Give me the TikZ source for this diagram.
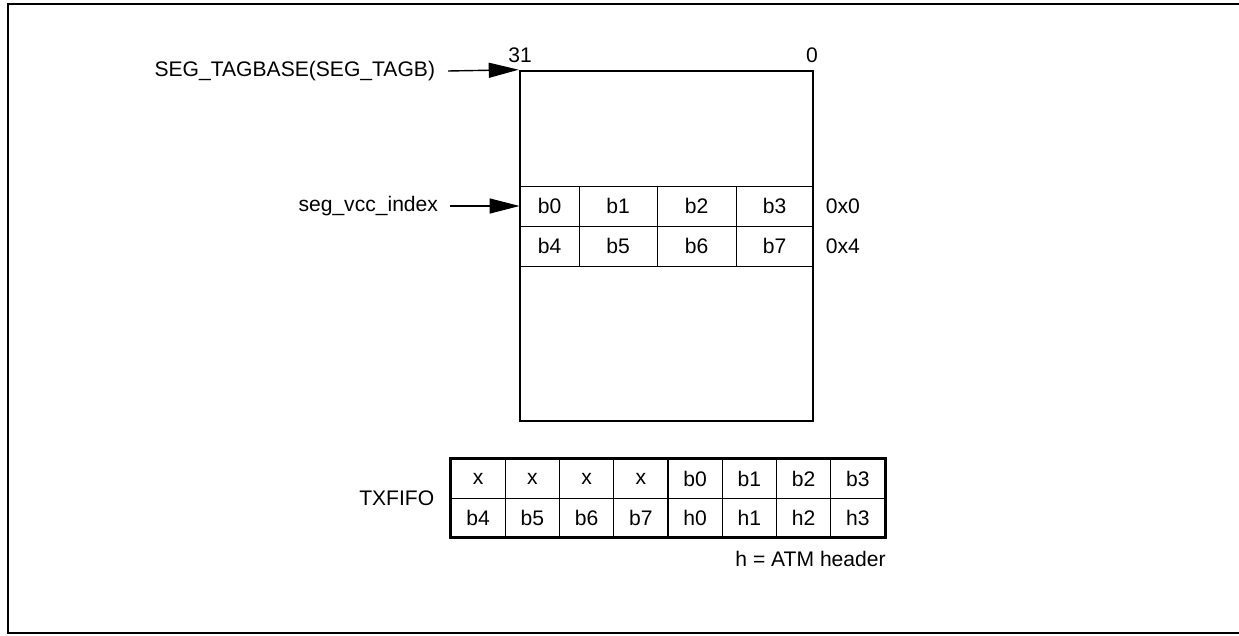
\documentclass[tikz,border=0pt]{standalone}
\usepackage{fontspec}
\setmainfont{Liberation Sans}
\usetikzlibrary{arrows.meta,positioning}

\begin{document}
\begin{tikzpicture}[x=0.02cm,y=-0.02cm,
  font=\fontsize{12}{14}\selectfont,
  memblk/.style={draw,line width=1.5pt,minimum width=5.86cm,minimum height=7cm,inner sep=0pt},
  mcell/.style={draw,line width=0.5pt,minimum height=0.8cm,inner sep=0pt},
  fcell/.style={draw,line width=0.5pt,minimum width=1.085cm,minimum height=0.78cm,inner sep=0pt},
  lbl/.style={inner sep=0pt},
  ptr/.style={-{Triangle[length=0.6cm,width=0.3cm]},line width=0.8pt}
]
  \useasboundingbox (0,0) rectangle (1239,635);
  % open frame
  \draw[line width=1.1pt] (1239,4) -- (8,4) -- (8,633) -- (1239,633);
  % memory rows
  \node[mcell,minimum width=1.18cm] (mb0) at (549.5,206) {b0};
  \node[mcell,minimum width=1.56cm] (mb1) at (618,206) {b1};
  \node[mcell,minimum width=1.58cm] (mb2) at (696.5,206) {b2};
  \node[mcell,minimum width=1.54cm] (mb3) at (774.5,206) {b3};
  \node[mcell,minimum width=1.18cm] (mb4) at (549.5,246) {b4};
  \node[mcell,minimum width=1.56cm] (mb5) at (618,246) {b5};
  \node[mcell,minimum width=1.58cm] (mb6) at (696.5,246) {b6};
  \node[mcell,minimum width=1.54cm] (mb7) at (774.5,246) {b7};
  \node[memblk] (mem) at (666.5,246) {};
  \node[lbl,anchor=south] (msb) at (520,63) {31};
  \node[lbl,anchor=south] (lsb) at (812,63) {0};
  \node[lbl,right=0.24cm of mb3.east] (off0) {0x0};
  \node[lbl,right=0.24cm of mb7.east] (off4) {0x4};
  % pointers
  \node[lbl,outer xsep=0.26cm,anchor=east] (tagbase) at (448,71) {SEG\_TAGBASE(SEG\_TAGB)};
  \node[lbl,outer xsep=0.24cm,anchor=east] (vcc) at (450,206) {seg\_vcc\_index};
  \draw[ptr] (tagbase.east) -- (mem.north west);
  \draw[ptr] (vcc.east) -- (mb0.west);
  % TXFIFO
  \foreach \t [count=\i] in {x,x,x,x,b0,b1,b2,b3}
    \node[fcell] (ft\i) at ({451+54.25*(\i-0.5)},478.5) {\t};
  \foreach \t [count=\i] in {b4,b5,b6,b7,h0,h1,h2,h3}
    \node[fcell] (fb\i) at ({451+54.25*(\i-0.5)},517.5) {\t};
  \draw[line width=1.5pt] (ft1.north west) rectangle (fb8.south east);
  \draw[line width=1.1pt] (ft4.north east) -- (fb4.south east);
  \node[lbl,left=0.32cm of ft1.south west] (txfifo) {TXFIFO};
  \node[lbl,anchor=east] (hkey) at (886,559) {h = ATM header};
\end{tikzpicture}
\end{document}
